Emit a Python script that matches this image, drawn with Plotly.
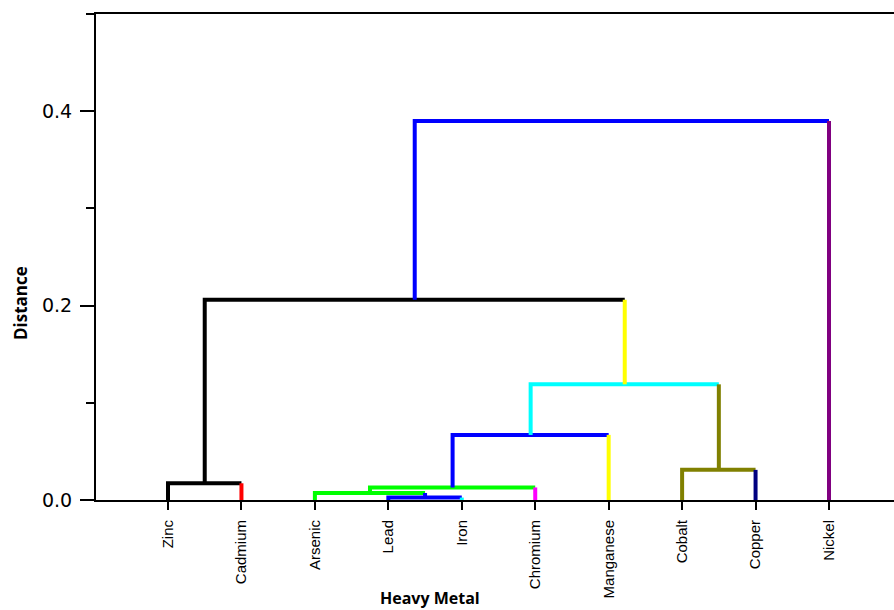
import plotly.graph_objects as go

# ---- data ----
leaves = ["Zinc", "Cadmium", "Arsenic", "Lead", "Iron", "Chromium",
          "Manganese", "Cobalt", "Copper", "Nickel"]
leaf_colors = ["#000000", "#ff0000", "#00ff00", "#0000ff", "#00ffff",
               "#ff00ff", "#ffff00", "#808000", "#000080", "#800080"]
# linkage: node (10 + k) merges merge_left[k] and merge_right[k] at merge_height[k]
merge_left = [3, 2, 11, 12, 7, 13, 0, 16, 17]
merge_right = [4, 10, 5, 6, 8, 14, 1, 15, 9]
merge_height = [0.0025, 0.0072, 0.0129, 0.067, 0.031, 0.119, 0.0172, 0.206, 0.39]
node_colors = ["#0000ff", "#00ff00", "#0000ff", "#00ffff", "#808000",
               "#ffff00", "#000000", "#0000ff", "#0000ff"]
y_tickvals = [0.0, 0.2, 0.4]
y_ticktext = ["0.0", "0.2", "0.4"]
y_minor = [0.1, 0.3, 0.5]

n = len(leaves)
pos = {i: i + 1 for i in range(n)}
hgt = {i: 0.0 for i in range(n)}
col = {i: leaf_colors[i] for i in range(n)}
for k, (a, b, h) in enumerate(zip(merge_left, merge_right, merge_height)):
    node = n + k
    pos[node] = (pos[a] + pos[b]) / 2
    hgt[node] = h
    col[node] = node_colors[k]

fig = go.Figure()
for k, (a, b, h) in enumerate(zip(merge_left, merge_right, merge_height)):
    fig.add_trace(go.Scatter(x=[pos[a], pos[a], pos[b]], y=[hgt[a], h, h],
                             mode="lines", line=dict(color=col[a], width=4),
                             hoverinfo="skip", showlegend=False))
    fig.add_trace(go.Scatter(x=[pos[b], pos[b]], y=[h, hgt[b]],
                             mode="lines", line=dict(color=col[b], width=4),
                             hoverinfo="skip", showlegend=False))

W, H = 894, 610
L, R, T, B = 96, 0, 14, 110
pw, ph = W - L - R, H - T - B

def px(x):
    return (x - L) / pw

def py(y):
    return (H - B - y) / ph

fig.update_layout(
    width=W, height=H,
    margin=dict(l=L, r=R, t=T, b=B, autoexpand=False),
    plot_bgcolor="white", paper_bgcolor="white",
    xaxis=dict(
        automargin=False,
        range=[0.0196, 10.885],
        tickmode="array", tickvals=[pos[i] for i in range(n)], ticktext=leaves,
        tickangle=-90, ticks="outside", ticklen=8, tickwidth=2, tickcolor="black",
        ticklabelstandoff=4,
        tickfont=dict(family="Liberation Sans", size=15, color="black"),
        showline=True, linewidth=2, linecolor="black", mirror=True,
        showgrid=False, zeroline=False,
    ),
    yaxis=dict(
        automargin=False,
        range=[0, 0.5],
        tickmode="array", tickvals=y_tickvals, ticktext=y_ticktext,
        ticks="outside", ticklen=14, tickwidth=2, tickcolor="black",
        ticklabelstandoff=4,
        tickfont=dict(family="DejaVu Sans", size=19, color="black"),
        minor=dict(tickmode="array", tickvals=y_minor, ticks="outside",
                   ticklen=8, tickwidth=2, tickcolor="black", showgrid=False),
        showline=True, linewidth=2, linecolor="black", mirror=False,
        showgrid=False, zeroline=False,
    ),
    annotations=[
        dict(text="<b>Distance</b>", x=px(20), y=py(303), xref="paper", yref="paper",
             textangle=-90, showarrow=False, xanchor="center", yanchor="middle",
             font=dict(family="Open Sans", size=17, color="black")),
        dict(text="<b>Heavy Metal</b>", x=px(430), y=py(598), xref="paper", yref="paper",
             showarrow=False, xanchor="center", yanchor="middle",
             font=dict(family="Open Sans", size=16, color="black")),
    ],
)

fig.write_html(
    "out.html",
    config={"displayModeBar": False},
    post_script="document.body.style.margin='0';document.body.style.overflow='hidden';",
)
